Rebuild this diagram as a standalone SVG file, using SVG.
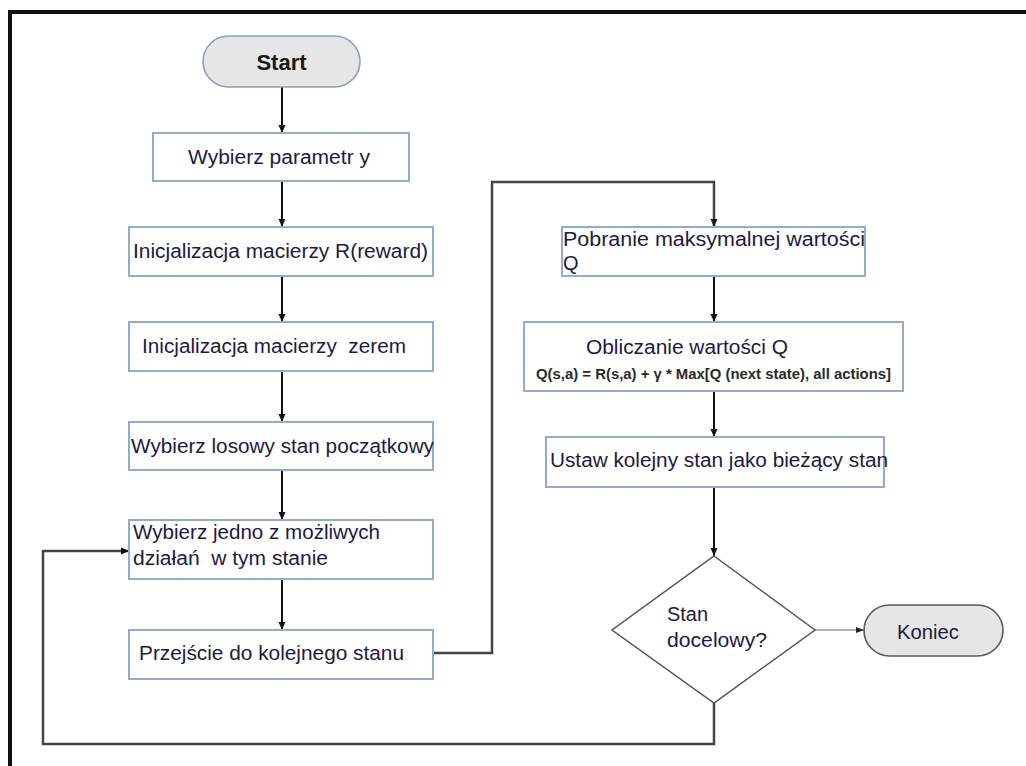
<svg xmlns="http://www.w3.org/2000/svg" width="1026" height="766" viewBox="0 0 1026 766">
  <defs>
    <marker id="arrow" viewBox="0 0 8 8" refX="8" refY="4" markerWidth="8" markerHeight="8" markerUnits="userSpaceOnUse" orient="auto">
      <path d="M0,0.5 L8,4 L0,7.5 Z" fill="#111"/>
    </marker>
    <marker id="arrowSmall" viewBox="0 0 8 8" refX="8" refY="4" markerWidth="8" markerHeight="8" markerUnits="userSpaceOnUse" orient="auto">
      <path d="M0,1 L8,4 L0,7 Z" fill="#222"/>
    </marker>
  </defs>
  <style>
    .box { fill: #ffffff; stroke: #93acca; stroke-width: 2; }
    .term { fill: #e6e6e6; stroke-width: 1.6; }
    .label { font-family: "Liberation Sans", Arial, sans-serif; font-size: 20px; fill: #1e1a40; }
    .formula { font-family: "Liberation Sans", Arial, sans-serif; font-size: 14px; font-weight: bold; fill: #2a2a2a; }
    .flow { fill: none; stroke: #111; stroke-width: 2; }
    .loop { fill: none; stroke: #444; stroke-width: 2.5; }
    .thin { fill: none; stroke: #666; stroke-width: 1.2; }
  </style>

  <rect width="1026" height="766" fill="#ffffff"/>

  <!-- frame (top and left edges) -->
  <path d="M10,766 L10,12 L1026,12" fill="none" stroke="#111" stroke-width="4"/>

  <!-- connectors -->
  <g id="connectors">
    <line class="flow" x1="282" y1="87" x2="282" y2="133" marker-end="url(#arrow)"/>
    <line class="flow" x1="282" y1="181" x2="282" y2="227" marker-end="url(#arrow)"/>
    <line class="flow" x1="282" y1="276" x2="282" y2="322" marker-end="url(#arrow)"/>
    <line class="flow" x1="282" y1="371" x2="282" y2="422" marker-end="url(#arrow)"/>
    <line class="flow" x1="282" y1="470" x2="282" y2="520" marker-end="url(#arrow)"/>
    <line class="flow" x1="282" y1="579" x2="282" y2="630" marker-end="url(#arrow)"/>
    <path class="loop" d="M433,653 L492,653 L492,182 L714,182 L714,227" marker-end="url(#arrow)"/>
    <line class="flow" x1="714" y1="276" x2="714" y2="322" marker-end="url(#arrow)"/>
    <line class="flow" x1="714" y1="391" x2="714" y2="437" marker-end="url(#arrow)"/>
    <line class="flow" x1="714" y1="487" x2="714" y2="556" marker-end="url(#arrow)"/>
    <line class="thin" x1="815" y1="630" x2="864" y2="630" marker-end="url(#arrowSmall)"/>
    <path class="loop" d="M714,703 L714,744 L43,744 L43,551 L129,551" marker-end="url(#arrow)"/>
  </g>

  <g id="start">
    <rect class="term" x="203" y="36" width="157" height="51" rx="25.5" stroke="#8aa0bd"/>
    <text x="281.5" y="70" text-anchor="middle" font-family="'Liberation Sans', Arial, sans-serif" font-size="22" font-weight="bold" fill="#1a1a1a">Start</text>
  </g>

  <g id="params">
    <rect class="box" x="153" y="133" width="256" height="48"/>
    <text class="label" x="188" y="164" textLength="182" lengthAdjust="spacingAndGlyphs">Wybierz parametr y</text>
  </g>

  <g id="init-r">
    <rect class="box" x="129" y="227" width="304" height="49"/>
    <text class="label" x="133" y="258" textLength="295" lengthAdjust="spacingAndGlyphs">Inicjalizacja macierzy R(reward)</text>
  </g>

  <g id="init-zero">
    <rect class="box" x="129" y="322" width="304" height="49"/>
    <text class="label" x="142" y="353" textLength="264" lengthAdjust="spacingAndGlyphs" style="white-space:pre">Inicjalizacja macierzy  zerem</text>
  </g>

  <g id="random-state">
    <rect class="box" x="129" y="422" width="304" height="48"/>
    <text class="label" x="131" y="453" textLength="303" lengthAdjust="spacingAndGlyphs">Wybierz losowy stan początkowy</text>
  </g>

  <g id="choose-action">
    <rect class="box" x="129" y="520" width="304" height="59"/>
    <text class="label" x="133" y="539" textLength="247" lengthAdjust="spacingAndGlyphs">Wybierz jedno z możliwych</text>
    <text class="label" x="133" y="565" textLength="195" lengthAdjust="spacingAndGlyphs" style="white-space:pre">działań  w tym stanie</text>
  </g>

  <g id="next-state">
    <rect class="box" x="129" y="630" width="304" height="49"/>
    <text class="label" x="139" y="660" textLength="265" lengthAdjust="spacingAndGlyphs">Przejście do kolejnego stanu</text>
  </g>

  <g id="max-q">
    <rect class="box" x="562" y="227" width="303" height="49"/>
    <text class="label" x="563" y="246" textLength="302" lengthAdjust="spacingAndGlyphs">Pobranie maksymalnej wartości</text>
    <text class="label" x="563" y="270">Q</text>
  </g>

  <g id="compute-q">
    <rect class="box" x="524" y="322" width="379" height="69"/>
    <text class="label" x="586" y="354" textLength="202" lengthAdjust="spacingAndGlyphs">Obliczanie wartości Q</text>
    <text class="formula" x="536" y="379" textLength="355" lengthAdjust="spacingAndGlyphs">Q(s,a) = R(s,a) + γ * Max[Q (next state), all actions]</text>
  </g>

  <g id="set-current">
    <rect class="box" x="546" y="437" width="338" height="50"/>
    <text class="label" x="550" y="467" textLength="338" lengthAdjust="spacingAndGlyphs">Ustaw kolejny stan jako bieżący stan</text>
  </g>

  <g id="goal-check">
    <polygon points="714,556 815,630 714,703 612,630" fill="#ffffff" stroke="#555" stroke-width="1.5"/>
    <text class="label" x="667" y="621" font-size="18" textLength="41" lengthAdjust="spacingAndGlyphs">Stan</text>
    <text class="label" x="667" y="647" font-size="18" textLength="100" lengthAdjust="spacingAndGlyphs">docelowy?</text>
  </g>

  <g id="end">
    <rect class="term" x="864" y="605" width="139" height="51" rx="25.5" stroke="#5a5a5a"/>
    <text class="label" x="897" y="639" font-size="19" textLength="62" lengthAdjust="spacingAndGlyphs">Koniec</text>
  </g>
</svg>
